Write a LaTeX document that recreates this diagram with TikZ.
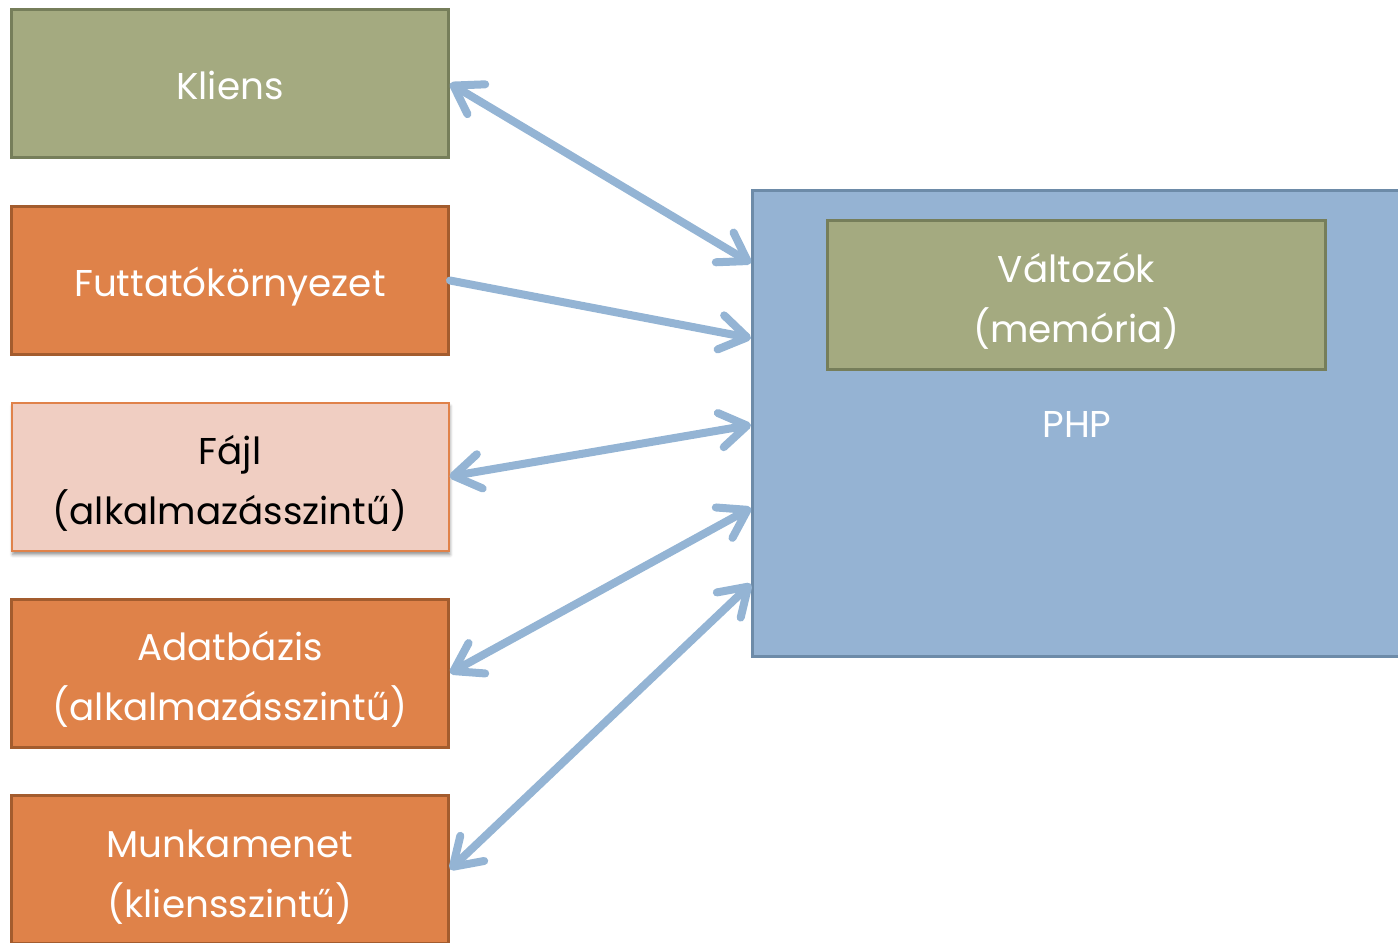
\documentclass[tikz,border=0pt]{standalone}
\usepackage{fontspec}
\setmainfont{Poppins}
\usepackage{tikz}
\usetikzlibrary{arrows.meta, positioning, calc, shadows.blur}
\definecolor{olivefill}{HTML}{A4AA80}
\definecolor{olivedraw}{HTML}{767E5A}
\definecolor{runfill}{HTML}{DF8249}
\definecolor{rundraw}{HTML}{A35C2E}
\definecolor{filefill}{HTML}{F0CEC2}
\definecolor{filedraw}{HTML}{E0824A}
\definecolor{phpfill}{HTML}{95B3D3}
\definecolor{phpdraw}{HTML}{6D8BA8}
\definecolor{linkblue}{HTML}{94B4D4}

\tikzset{
  box/.style={draw, line width=2.25pt, minimum width=327.75pt, minimum height=111pt,
    inner sep=0pt, align=center, text=white,
    font=\fontsize{28}{45}\selectfont},
  % struts so the labels sit a bit low, as in a slide
  oneline/.style={execute at begin node={\rule{0pt}{34pt}},
    execute at end node={\rule[-10pt]{0pt}{10pt}}},
  twoline/.style={execute at begin node={\rule{0pt}{81pt}},
    execute at end node={\rule[-9.5pt]{0pt}{9.5pt}}},
  greenbox/.style={box, fill=olivefill, draw=olivedraw},
  orangebox/.style={box, fill=runfill, draw=rundraw},
  filebox/.style={box, fill=filefill, draw=filedraw, line width=1.5pt, text=black,
    blur shadow={shadow xshift=1pt, shadow yshift=-3pt, shadow blur radius=2.5pt, shadow opacity=45}},
  link/.style={linkblue, line width=6pt, line cap=round},
  tip/.tip={Straight Barb[length=20pt, width=26pt, round]}
}

\begin{document}
\begin{tikzpicture}[x=0.75pt, y=-0.75pt]
  \clip (0,0) rectangle (1398,942);

  % sources on the left
  \node[greenbox, oneline]  (kliens)  at (230,83.5)  {Kliens};
  \node[orangebox, oneline] (futtato) at (230,280.5) {Futtatókörnyezet};
  \node[filebox, twoline]   (fajl)    at (230,476.5) {Fájl\\(alkalmazásszintű)};
  \node[orangebox, twoline] (adatb)   at (230,673)   {Adatbázis\\(alkalmazásszintű)};
  \node[orangebox, twoline] (munka)   at (230,869.5) {Munkamenet\\(kliensszintű)};

  % PHP with its variables
  \node[box, fill=phpfill, draw=phpdraw, minimum width=487.5pt, minimum height=349.5pt] (php) at (1077.5,423.5) {};
  \node[greenbox, twoline, minimum width=373.5pt, minimum height=111.75pt] (valtozok) at (1076.5,295) {Változók\\(memória)};
  \node[text=white, font=\fontsize{28}{45}\selectfont] (phplabel) at (1077,424.5) {PHP};

  % connections
  \draw[link, tip-tip] (kliens.east) -- ($(php.north west)!0.158!(php.south west)$);
  \draw[link, -tip] (futtato.east) -- ($(php.north west)!0.318!(php.south west)$);
  \draw[link, tip-tip] (fajl.east) -- ($(php.north west)!0.503!(php.south west)$);
  \draw[link, tip-tip] (adatb.east) -- ($(php.north west)!0.680!(php.south west)$);
  \draw[link, tip-tip] (munka.east) -- ($(php.north west)!0.842!(php.south west)$);
\end{tikzpicture}
\end{document}
